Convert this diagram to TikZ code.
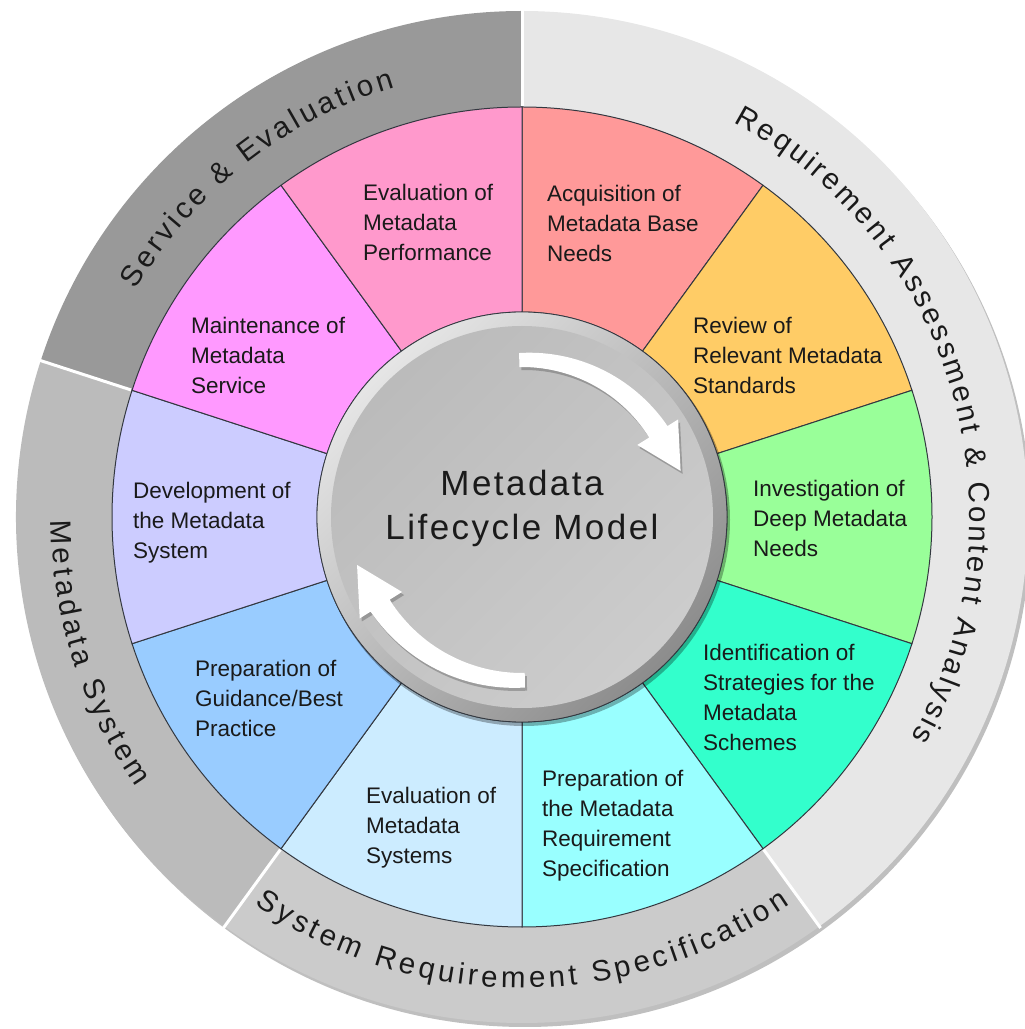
\documentclass[tikz,border=0pt]{standalone}
\usepackage{fontspec}
\setmainfont{Liberation Sans}
\usetikzlibrary{decorations.text}
\definecolor{cAcq}{HTML}{FF9999}
\definecolor{cRev}{HTML}{FFCC66}
\definecolor{cInv}{HTML}{99FF99}
\definecolor{cIde}{HTML}{33FFCC}
\definecolor{cPrq}{HTML}{99FFFF}
\definecolor{cEvs}{HTML}{CCECFF}
\definecolor{cPgu}{HTML}{99CCFF}
\definecolor{cDev}{HTML}{CCCCFF}
\definecolor{cMai}{HTML}{FF99FF}
\definecolor{cEvp}{HTML}{FF99CC}
\definecolor{bSer}{HTML}{999999}
\definecolor{bMet}{HTML}{BBBBBB}
\definecolor{bSys}{HTML}{CBCBCB}
\definecolor{bReq}{HTML}{E7E7E7}
\definecolor{segline}{HTML}{333840}
\definecolor{txt}{HTML}{1A1A1A}
\definecolor{hubface}{HTML}{C9C9C9}
\newcommand{\segfont}{\fontsize{22.5}{30}\selectfont}
\newcommand{\bandfont}{\fontsize{29.5}{32}\selectfont}
\newcommand{\hubfont}{\fontsize{35}{44}\selectfont\addfontfeature{LetterSpace=7}}
\newcommand{\annsector}[5]{%
  \path[#1] (#2:#4) arc[start angle=#2,end angle=#3,radius=#4] -- (#3:#5) arc[start angle=#3,end angle=#2,radius=#5] -- cycle;}
\newcommand{\hubarrow}[1]{%
  \path[#1] plot[domain=91:32,samples=30] (\x:{164+0.13*(91-\x)}) -- (32:184) -- (158.6,46.1) -- (32:136) -- plot[domain=32:91,samples=30] (\x:150) -- cycle;}
\tikzset{
  seg/.style={fill=#1, draw=segline, line width=1pt},
  band/.style={fill=#1},
  segtext/.style={anchor=north west, inner sep=0pt, align=left, font=\segfont, text=txt},
  hubtext/.style={anchor=base, inner sep=0pt, font=\hubfont, text=txt},
  bandtext/.style={decorate, decoration={text along path, text align={fit to path}, text={|\bandfont\color{txt}|#1}}},
  sepline/.style={draw=white, line width=3pt},
  arrowbody/.style={fill=white},
  arrowshadow/.style={fill=black, opacity=0.22},
}
\begin{document}
\begin{tikzpicture}[x=1pt,y=1pt]
\useasboundingbox (0,0) rectangle (1025,1029);
\clip (0,0) rectangle (1025,1029);
\begin{scope}[shift={(522,512)}]
  % outer ring shadow and bands
  \fill[black, opacity=0.25] (3,-4) circle[radius=506];
  \annsector{band=bSer}{90}{162}{506}{410}
  \annsector{band=bMet}{162}{234}{506}{410}
  \annsector{band=bSys}{234}{306}{506}{410}
  \annsector{band=bReq}{-54}{90}{506}{410}
  \foreach \a in {90,162,234,306} \draw[sepline] (\a:411) -- (\a:508);
  % wheel segments
  \annsector{seg=cAcq}{54}{90}{410}{205}
  \annsector{seg=cRev}{18}{54}{410}{205}
  \annsector{seg=cInv}{-18}{18}{410}{205}
  \annsector{seg=cIde}{-54}{-18}{410}{205}
  \annsector{seg=cPrq}{-90}{-54}{410}{205}
  \annsector{seg=cEvs}{-126}{-90}{410}{205}
  \annsector{seg=cPgu}{-162}{-126}{410}{205}
  \annsector{seg=cDev}{162}{198}{410}{205}
  \annsector{seg=cMai}{126}{162}{410}{205}
  \annsector{seg=cEvp}{90}{126}{410}{205}
  % hub
  \fill[black, opacity=0.3] (2,-3) circle[radius=206];
  \shade[top color=white!90!black, bottom color=black!45, shading angle=45] (0,0) circle[radius=205];
  \shade[top color=hubface!93!black, bottom color=hubface!94!white, shading angle=45] (0,0) circle[radius=191];
  \draw[segline, line width=0.8pt] (0,0) circle[radius=205];
  % arrows
  \hubarrow{arrowshadow, shift={(2,-3)}}
  \hubarrow{arrowbody}
  \begin{scope}[rotate=180, scale=1.04]
    \hubarrow{arrowshadow, shift={(-2,3)}}
    \hubarrow{arrowbody}
  \end{scope}
  % band labels
  \path[bandtext={Service {\&} Evaluation}] (149.5:448) arc[start angle=149.5, end angle=106.5, radius=448];
  \path[bandtext={Requirement Assessment {\&} Content Analysis}] (61.8:448) arc[start angle=61.8, end angle=-29.5, radius=448];
  \path[bandtext={Metadata System}] (180.4:471) arc[start angle=180.4, end angle=215, radius=471];
  \path[bandtext={System Requirement Specification}] (235.4:471) arc[start angle=235.4, end angle=304.6, radius=471];
\end{scope}
% segment labels
\node[segtext] (acq) at (547,844) {Acquisition of\\Metadata Base\\Needs};
\node[segtext] (rev) at (693,712) {Review of\\Relevant Metadata\\Standards};
\node[segtext] (inv) at (753,549) {Investigation of\\Deep Metadata\\Needs};
\node[segtext] (ide) at (703,385) {Identification of\\Strategies for the\\Metadata\\Schemes};
\node[segtext] (prq) at (542,259) {Preparation of\\the Metadata\\Requirement\\Specification};
\node[segtext] (evs) at (366,242) {Evaluation of\\Metadata\\Systems};
\node[segtext] (pgu) at (195,369) {Preparation of\\Guidance/Best\\Practice};
\node[segtext] (dev) at (133,547) {Development of\\the Metadata\\System};
\node[segtext] (mai) at (191,712) {Maintenance of\\Metadata\\Service};
\node[segtext] (evp) at (363,845) {Evaluation of\\Metadata\\Performance};
% hub label
\node[hubtext] (hub1) at (522,533.5) {Metadata};
\node[hubtext] (hub2) at (522,489.5) {Lifecycle Model};
\end{tikzpicture}
\end{document}
